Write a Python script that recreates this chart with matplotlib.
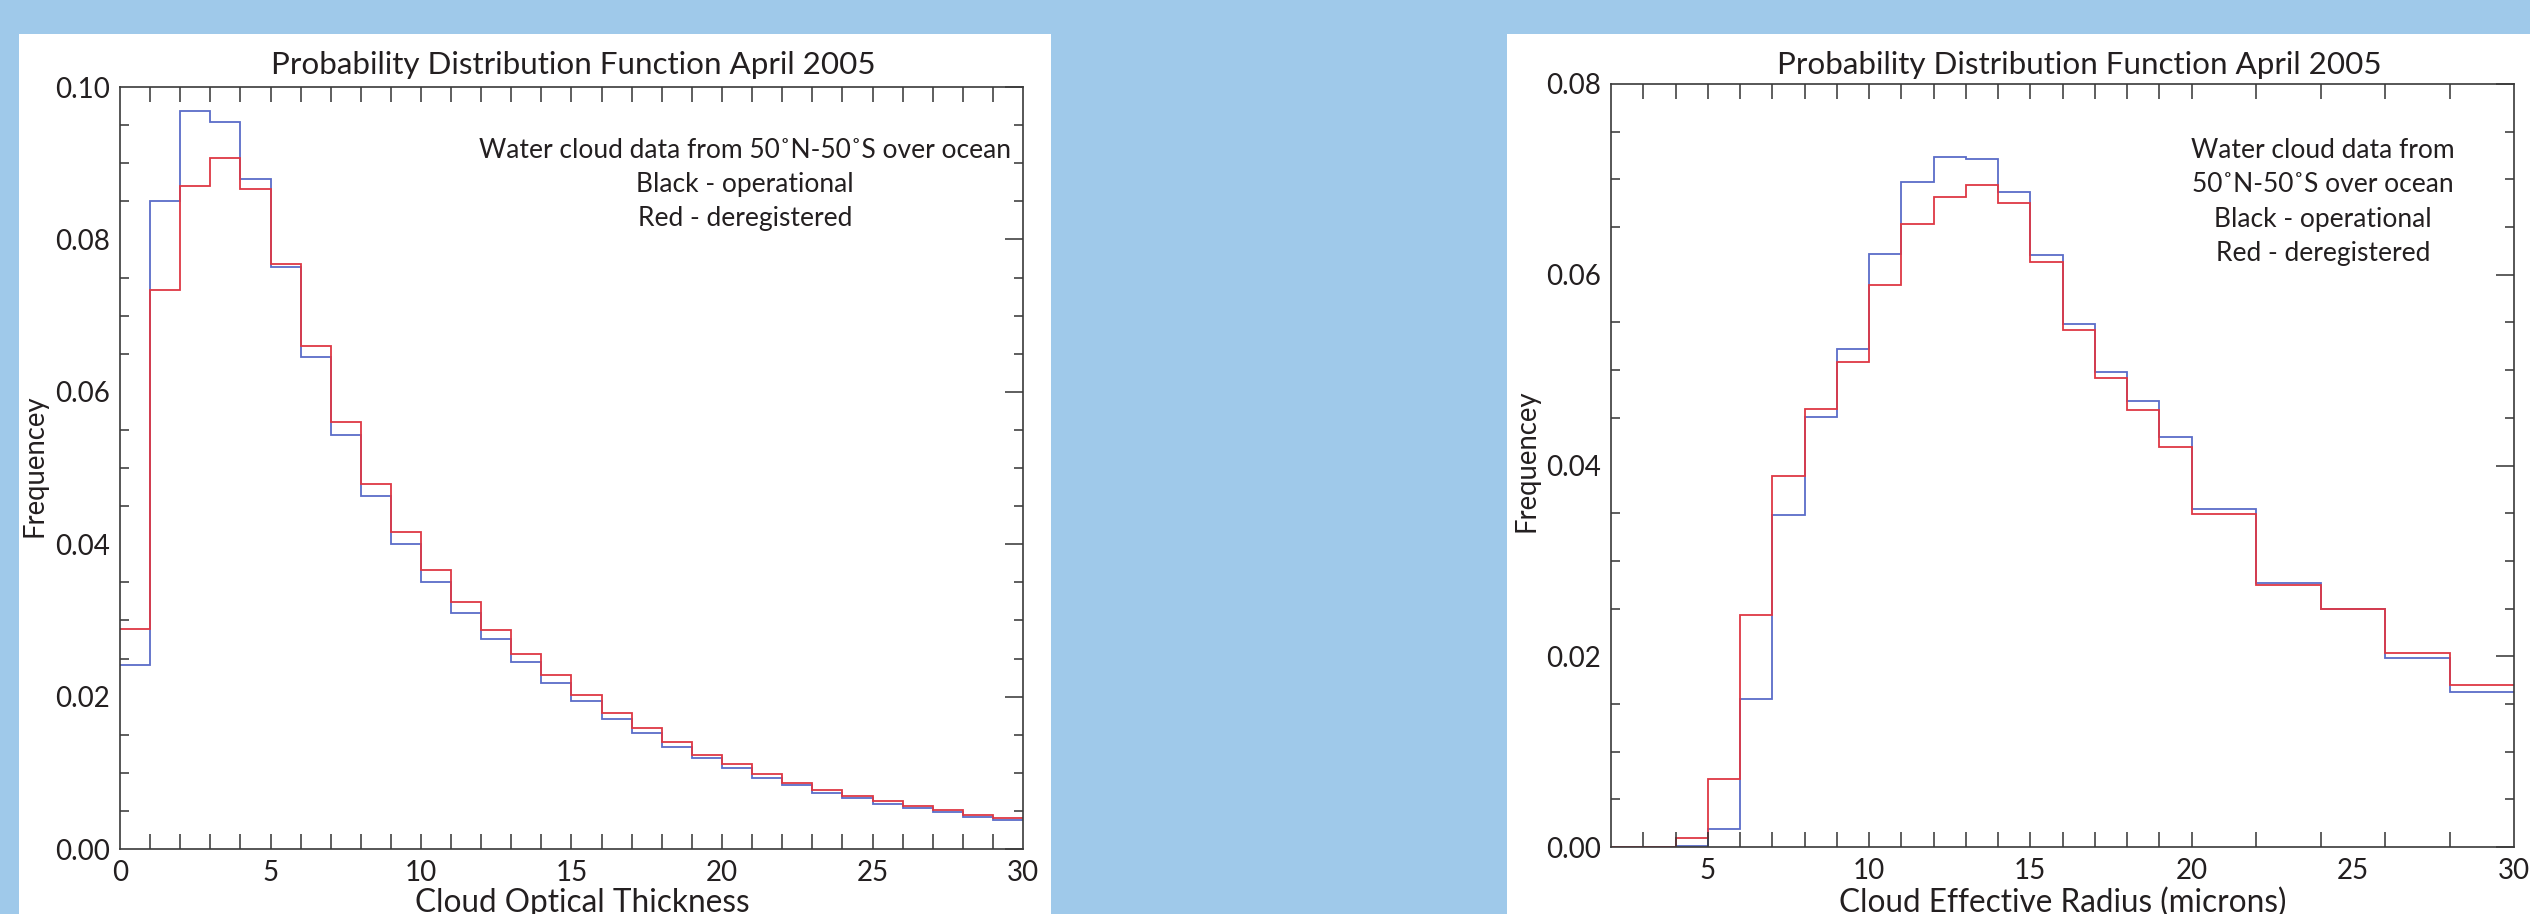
import matplotlib
matplotlib.use('Agg')
import matplotlib.pyplot as plt
from matplotlib.patches import Rectangle
from matplotlib.ticker import MultipleLocator, FixedLocator, FormatStrFormatter

plt.rcParams['font.family'] = ['Lato', 'DejaVu Sans']

# cloud optical thickness, bins of 1 from 0 to 30
tau_edges = list(range(0, 31))
tau_operational = [0.0242, 0.0851, 0.0969, 0.0954, 0.0879, 0.0764, 0.0646, 0.0543, 0.0463, 0.0400,
                   0.0350, 0.0310, 0.0276, 0.0246, 0.0218, 0.0194, 0.0171, 0.0152, 0.0134, 0.0119,
                   0.0106, 0.0093, 0.0084, 0.0074, 0.0067, 0.0059, 0.0054, 0.0048, 0.0042, 0.0038]
tau_deregistered = [0.0289, 0.0733, 0.0870, 0.0907, 0.0866, 0.0768, 0.0660, 0.0561, 0.0479, 0.0416,
                    0.0366, 0.0324, 0.0287, 0.0256, 0.0228, 0.0202, 0.0179, 0.0159, 0.0141, 0.0124,
                    0.0111, 0.0099, 0.0087, 0.0078, 0.0070, 0.0063, 0.0056, 0.0051, 0.0045, 0.0041]

# cloud effective radius, 1 micron bins up to 20 then 2 micron bins
re_edges = [2, 3, 4, 5, 6, 7, 8, 9, 10, 11, 12, 13, 14, 15, 16, 17, 18, 19, 20, 22, 24, 26, 28, 30]
re_operational = [0.0, 0.0, 0.0001, 0.0019, 0.0155, 0.0348, 0.0451, 0.0522, 0.0622, 0.0697, 0.0723, 0.0721,
                  0.0687, 0.0621, 0.0548, 0.0498, 0.0468, 0.0430, 0.0354, 0.0277, 0.0250, 0.0198, 0.0163]
re_deregistered = [0.0, 0.0, 0.0009, 0.0071, 0.0243, 0.0389, 0.0459, 0.0509, 0.0589, 0.0653, 0.0681, 0.0694,
                   0.0675, 0.0613, 0.0542, 0.0492, 0.0458, 0.0419, 0.0349, 0.0275, 0.0250, 0.0203, 0.0170]

title = 'Probability Distribution Function April 2005'
note_tau = ['Water cloud data from 50˚N-50˚S over ocean', 'Black - operational', 'Red - deregistered']
note_re = ['Water cloud data from', '50˚N-50˚S over ocean', 'Black - operational', 'Red - deregistered']

W, H = 2530, 914
INK = '#231f20'
BLUE = '#5a6cc8'
RED = '#de3844'

fig = plt.figure(figsize=(W / 100, H / 100), dpi=100, facecolor='#9fc9ea')


def box(x0, y0, x1, y1):
    # pixel box (top-left origin) -> figure fraction rect
    return [x0 / W, 1 - y1 / H, (x1 - x0) / W, (y1 - y0) / H]


def put(x, y, s, **kw):
    return fig.text(x / W, 1 - y / H, s, color=INK, **kw)


for x0, x1 in [(19, 1051), (1507, 2530)]:
    fig.patches.append(Rectangle((x0 / W, 0), (x1 - x0) / W, 1 - 34 / H,
                                 transform=fig.transFigure, facecolor='white', edgecolor='none', zorder=-1))

ax1 = fig.add_axes(box(120, 87, 1023, 849))
ax2 = fig.add_axes(box(1611, 84, 2514, 847))

ax1.stairs(tau_operational, tau_edges, baseline=None, color=BLUE, lw=1.3)
ax1.stairs(tau_deregistered, tau_edges, baseline=None, color=RED, lw=1.3)
ax2.stairs(re_operational, re_edges, baseline=None, color=BLUE, lw=1.3)
ax2.stairs(re_deregistered, re_edges, baseline=None, color=RED, lw=1.3)

ax1.set_xlim(0, 30)
ax1.set_ylim(0, 0.10)
ax2.set_xlim(2, 30)
ax2.set_ylim(0, 0.08)

ax1.xaxis.set_major_locator(MultipleLocator(5))
ax1.xaxis.set_minor_locator(FixedLocator(tau_edges[1:-1]))
ax2.xaxis.set_major_locator(FixedLocator([5, 10, 15, 20, 25, 30]))
ax2.xaxis.set_minor_locator(FixedLocator(re_edges[1:-1]))

for ax in (ax1, ax2):
    ax.set_facecolor('none')
    ax.xaxis.remove_overlapping_locs = False
    ax.yaxis.set_major_locator(MultipleLocator(0.02))
    ax.yaxis.set_minor_locator(MultipleLocator(0.005))
    ax.yaxis.set_major_formatter(FormatStrFormatter('%.2f'))
    ax.tick_params(axis='x', which='major', length=0, pad=8, labelsize=20, labelcolor=INK)
    ax.tick_params(axis='x', which='minor', direction='in', length=11, width=1.1,
                   top=True, bottom=True, color='#333333')
    ax.tick_params(axis='y', which='major', direction='in', length=13, width=1.1,
                   left=False, right=True, labelleft=True, pad=7, labelsize=20,
                   labelcolor=INK, color='#333333')
    ax.tick_params(axis='y', which='minor', direction='in', length=6.7, width=1.1,
                   left=True, right=True, color='#333333')
    for sp in ax.spines.values():
        sp.set_color('#3a3a3a')
        sp.set_linewidth(1.2)

# titles, axis labels and notes
put(573, 74, title, ha='center', va='baseline', fontsize=22.6)
put(2079, 74, title, ha='center', va='baseline', fontsize=22.6)
put(582, 912, 'Cloud Optical Thickness', ha='center', va='baseline', fontsize=22.7)
put(2063, 912, 'Cloud Effective Radius (microns)', ha='center', va='baseline', fontsize=22.7)
put(34, 466, 'Frequencey', ha='center', va='center', rotation=90, fontsize=19.8)
put(1526, 461, 'Frequencey', ha='center', va='center', rotation=90, fontsize=19.8)

for i, line in enumerate(note_tau):
    put(745, 158 + 34 * i, line, ha='center', va='baseline', fontsize=19)
for i, line in enumerate(note_re):
    put(2323, 158 + 34.5 * i, line, ha='center', va='baseline', fontsize=19)

fig.savefig('out.png', dpi=100, facecolor=fig.get_facecolor())
